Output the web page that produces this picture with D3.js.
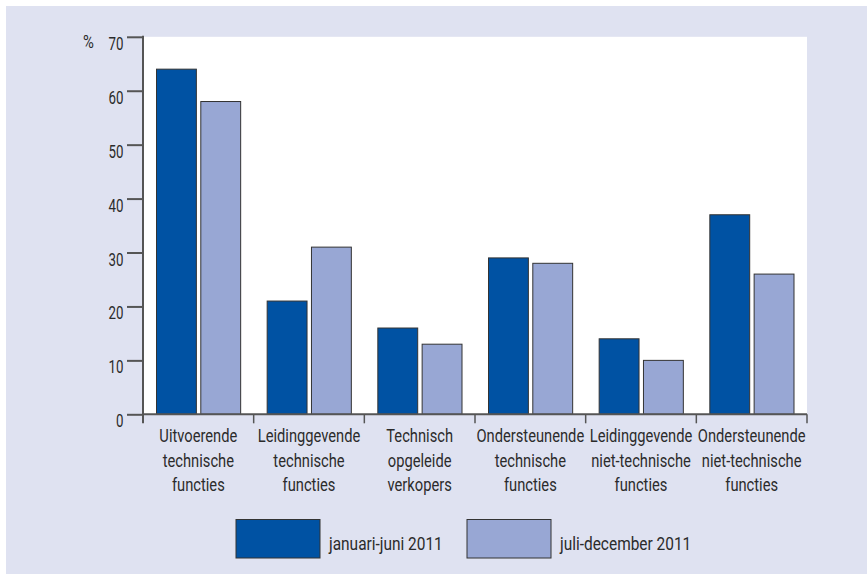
<!DOCTYPE html>
<html>
<head>
<meta charset="utf-8">
<script src="https://cdn.jsdelivr.net/npm/d3@7"></script>
<style>
  html, body { margin: 0; padding: 0; background: #ffffff; }
  svg { display: block; }
  text { font-family: Roboto, "Noto Sans", sans-serif; fill: #2b2b2b; }
</style>
</head>
<body>
<svg id="chart" width="867" height="574"></svg>
<script>
// Job categories (multi-line labels) and the two half-year series (%)
const categories = [
  ["Uitvoerende", "technische", "functies"],
  ["Leidinggevende", "technische", "functies"],
  ["Technisch", "opgeleide", "verkopers"],
  ["Ondersteunende", "technische", "functies"],
  ["Leidinggevende", "niet-technische", "functies"],
  ["Ondersteunende", "niet-technische", "functies"]
];
const seriesNames = ["januari-juni 2011", "juli-december 2011"];
const janJun = [64, 21, 16, 29, 14, 37];
const julDec = [58, 31, 13, 28, 10, 26];
const yTicks = [0, 10, 20, 30, 40, 50, 60, 70];

const colors = ["#0052a3", "#98a7d4"];
const W = 867, H = 574;
const svg = d3.select("#chart");

// lavender panel
svg.append("rect").attr("x", 6).attr("y", 6).attr("width", W - 6).attr("height", H - 6).attr("fill", "#dfe2f1");

const plotL = 143, plotR = 807, plotT = 36.8, plotB = 414.3;

const x0 = d3.scaleBand().domain(d3.range(categories.length)).range([plotL, plotR]).paddingInner(0).paddingOuter(0);
const x1 = d3.scaleBand().domain([0, 1]).range([13.5, x0.bandwidth() - 13]).paddingInner(0.1);
const y = d3.scaleLinear().domain([0, 70]).range([plotB, plotT]);

// white plot area
svg.append("rect").attr("x", plotL).attr("y", y(70)).attr("width", plotR - plotL).attr("height", plotB - y(70)).attr("fill", "#ffffff");

// bars
const data = categories.map((c, i) => [janJun[i], julDec[i]]);
const groups = svg.append("g").selectAll("g").data(data).join("g")
  .attr("transform", (d, i) => `translate(${x0(i)},0)`);
groups.selectAll("rect").data(d => d).join("rect")
  .attr("x", (d, j) => x1(j))
  .attr("width", x1.bandwidth())
  .attr("y", d => y(d))
  .attr("height", d => y(0) - y(d))
  .attr("fill", (d, j) => colors[j])
  .attr("stroke", "#333")
  .attr("stroke-width", 1);

// y axis (condensed tick labels via horizontal scaling)
const yAxis = svg.append("g").attr("transform", `translate(${plotL},0)`)
  .call(d3.axisLeft(y).tickValues(yTicks).tickSize(16).tickPadding(4).tickSizeOuter(0));
yAxis.select(".domain").remove();
yAxis.selectAll(".tick line").attr("stroke", "#555").attr("stroke-width", 2);
yAxis.selectAll(".tick text")
  .attr("font-size", 17.5)
  .attr("font-family", "Roboto, sans-serif")
  .attr("fill", "#2b2b2b")
  .attr("x", 0).attr("dy", null).attr("y", 12.5)
  .attr("transform", "translate(-19.5,0) scale(0.76,1)");
svg.append("line").attr("x1", plotL).attr("x2", plotL).attr("y1", plotT - 1).attr("y2", plotB + 9)
  .attr("stroke", "#555").attr("stroke-width", 2);

// x axis baseline and category boundary ticks
svg.append("line").attr("x1", plotL).attr("x2", plotR).attr("y1", plotB).attr("y2", plotB)
  .attr("stroke", "#555").attr("stroke-width", 2);
const boundaries = d3.range(1, categories.length + 1).map(i => x0(i - 1) + x0.bandwidth());
svg.append("g").selectAll("line").data(boundaries).join("line")
  .attr("x1", d => d).attr("x2", d => d).attr("y1", plotB).attr("y2", plotB + 9)
  .attr("stroke", "#555").attr("stroke-width", 1.5);

// category labels
const lab = svg.append("g").selectAll("text").data(categories).join("text")
  .attr("text-anchor", "middle")
  .attr("font-size", 18.5)
  .attr("transform", (d, i) => `translate(${x0(i) + x0.bandwidth() / 2},0) scale(0.795,1)`);
lab.selectAll("tspan").data(d => d).join("tspan")
  .attr("x", 0)
  .attr("y", (d, k) => 442 + k * 24.7)
  .text(d => d);

// percent sign
svg.append("text").attr("transform", "translate(83,48) scale(0.8,1)").attr("font-size", 18.5).text("%");

// legend
const legend = svg.append("g");
const legX = [236, 467];
seriesNames.forEach((name, j) => {
  legend.append("rect").attr("x", legX[j]).attr("y", 519.5).attr("width", 84).attr("height", 38.5)
    .attr("fill", colors[j]).attr("stroke", "#333").attr("stroke-width", 1);
  legend.append("text").attr("transform", `translate(${legX[j] + 93},550) scale(0.835,1)`)
    .attr("font-size", 18.5).text(name);
});
</script>
</body>
</html>
